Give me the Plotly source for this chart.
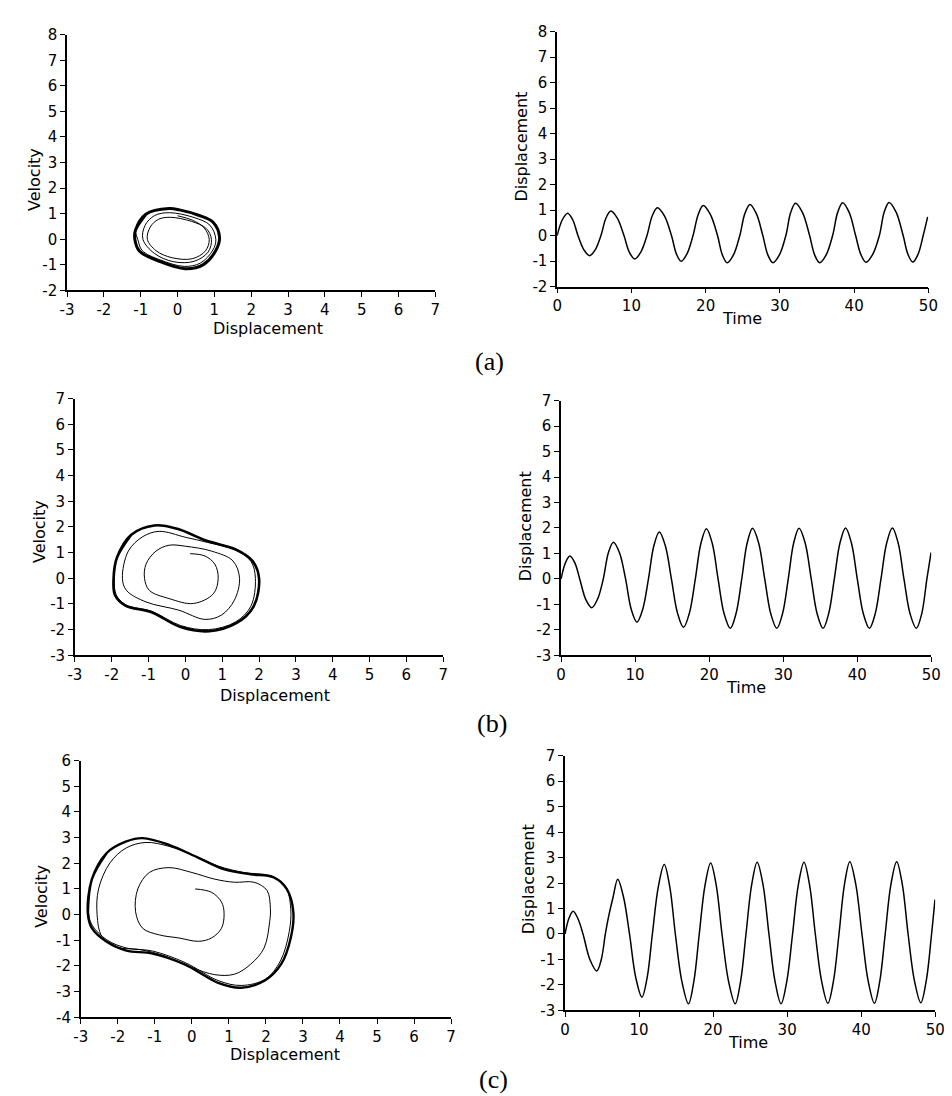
import plotly.graph_objects as go

# ---------------- DATA ----------------
# (a) phase portrait: transient spiral and limit cycle
PA_X = [0.00, 0.40, 0.72, 0.86, 0.76, 0.40, -0.15, -0.58, -0.82,
        -0.74, -0.52, -0.20, 0.38, 0.78, 0.92, 0.83, 0.45, -0.10, -0.62, -0.94,
        -0.88, -0.62, -0.22, 0.45, 0.88, 1.04, 0.96, 0.62, 0.18, -0.48, -0.96, -1.08,
        -1.14, -0.86]
PA_V = [0.92, 0.75, 0.45, 0.00, -0.45, -0.76, -0.72, -0.45, 0.00,
        0.48, 0.78, 0.86, 0.70, 0.42, 0.00, -0.50, -0.86, -0.88, -0.56, 0.00,
        0.55, 0.93, 1.04, 0.85, 0.55, 0.00, -0.42, -0.93, -1.06, -0.80, -0.44, 0.00,
        0.36, 0.98]
PA_LX = [-1.16, -1.14, -0.86, -0.23, 0.05, 0.57, 0.97, 1.14, 1.05, 0.70, 0.21, -0.50, -1.03, -1.16, -1.14, -0.86]
PA_LV = [0.00, 0.36, 0.98, 1.20, 1.15, 0.94, 0.66, 0.08, -0.41, -0.99, -1.15, -0.86, -0.47, 0.00, 0.36, 0.98]

# (a) time history
TA_T = [0, 0.7, 1.41, 2.1, 2.8, 3.6, 4.37, 5.13, 5.9, 6.57, 7.23, 8.1, 9.0, 9.72, 10.45, 11.27,
        12.1, 12.8, 13.5, 14.45, 15.4, 16.05, 16.7, 17.5, 18.3, 19.0, 19.67, 20.63, 21.6, 22.25,
        22.9, 23.75, 24.6, 25.28, 25.97, 26.83, 27.7, 28.38, 29.06, 29.93, 30.8, 31.45, 32.1,
        33.05, 34.0, 34.68, 35.36, 36.23, 37.1, 37.78, 38.45, 39.33, 40.2, 40.9, 41.6, 42.5,
        43.4, 44.05, 44.7, 45.65, 46.6, 47.25, 47.9, 48.6, 49.3, 49.9]
TA_Y = [0.0, 0.62, 0.88, 0.62, 0, -0.56, -0.79, -0.56, 0, 0.68, 0.96, 0.68, 0, -0.65, -0.92, -0.65,
        0, 0.77, 1.09, 0.77, 0, -0.71, -1.01, -0.71, 0, 0.83, 1.18, 0.83, 0, -0.76,
        -1.07, -0.76, 0, 0.86, 1.22, 0.86, 0, -0.76, -1.07, -0.76, 0, 0.90, 1.27,
        0.90, 0, -0.76, -1.07, -0.76, 0, 0.91, 1.29, 0.91, 0, -0.74, -1.05, -0.74,
        0, 0.92, 1.30, 0.92, 0, -0.74, -1.04, -0.74, 0, 0.73]

# (b) phase portrait
PB_X = [0.13, 0.53, 0.80, 0.89, 0.76, 0.22, -0.44, -0.98, -1.11,
        -1.07, -0.80, -0.44, 0.00, 0.71, 1.29, 1.47,
        1.33, 0.98, 0.53, -0.18, -1.07, -1.60, -1.71,
        -1.55, -1.15, -0.71, 0.00, 0.60, 1.35, 1.78, 1.90,
        1.78, 1.36, 0.63, -0.13, -0.92, -1.62, -1.88, -1.93,
        -1.86, -1.47]
PB_V = [0.96, 0.87, 0.55, 0.00, -0.60, -0.98, -0.79, -0.47, 0.00,
        0.55, 1.06, 1.29, 1.25, 1.06, 0.68, 0.00,
        -0.85, -1.43, -1.60, -1.24, -0.92, -0.47, 0.00,
        1.06, 1.63, 1.83, 1.60, 1.40, 1.10, 0.66, 0.00,
        -1.08, -1.70, -2.00, -1.84, -1.28, -1.03, -0.64, 0.00,
        0.80, 1.70]
PB_LX = [-1.95, -1.86, -1.47, -0.84, -0.22, 0.58, 1.38, 1.82, 2.00, 1.85, 1.38, 0.65, -0.13, -0.92, -1.63, -1.91, -1.95, -1.86, -1.47]
PB_LV = [0.00, 0.80, 1.70, 2.06, 1.93, 1.46, 1.12, 0.68, 0.00, -1.10, -1.75, -2.06, -1.90, -1.32, -1.06, -0.66, 0.00, 0.80, 1.70]

# (b) time history
TB_T = [0, 0.6, 1.19, 1.85, 2.52, 3.33, 4.15, 4.92, 5.7, 6.38, 7.07, 7.9, 8.71, 9.48, 10.25, 11.02,
        11.8, 12.53, 13.26, 14.08, 14.9, 15.72, 16.53, 17.33, 18.13, 18.88, 19.63, 20.42, 21.2,
        22.02, 22.85, 23.62, 24.4, 25.13, 25.86, 26.68, 27.5, 28.32, 29.13, 29.9, 30.68, 31.41,
        32.14, 32.96, 33.78, 34.58, 35.37, 36.13, 36.9, 37.66, 38.42, 39.21, 40.0, 40.82, 41.64,
        42.42, 43.2, 43.97, 44.74, 45.52, 46.3, 47.13, 47.97, 48.7, 49.4, 49.96]
TB_Y = [0.0, 0.64, 0.90, 0.64, 0, -0.80, -1.13, -0.80, 0, 1.02, 1.44, 1.02, 0, -1.20, -1.70, -1.20,
        0, 1.30, 1.84, 1.30, 0, -1.34, -1.90, -1.34, 0, 1.39, 1.97, 1.39, 0,
        -1.37, -1.94, -1.37, 0, 1.41, 1.99, 1.41, 0, -1.37, -1.94, -1.37, 0, 1.41,
        1.99, 1.41, 0, -1.37, -1.94, -1.37, 0, 1.41, 2.00, 1.41, 0, -1.37, -1.94,
        -1.37, 0, 1.41, 2.00, 1.41, 0, -1.37, -1.94, -1.37, 0, 1.03]

# (c) phase portrait
PC_X = [0.09, 0.53, 0.80, 0.87, 0.80, 0.53, 0.18, -0.35, -0.88, -1.33, -1.52,
        -1.46, -1.15, -0.62, 0.00, 0.62, 1.15, 1.68, 2.03, 2.12,
        2.10, 1.95, 1.59, 1.15, 0.62, 0.00, -0.71, -1.41, -2.03, -2.43, -2.56,
        -2.52, -2.21, -1.77, -1.24, -0.62, 0.09, 0.71, 1.41, 2.12, 2.52, 2.67,
        2.63, 2.39, 1.99, 1.33, 0.71, -0.18, -1.06, -1.77, -2.30, -2.70, -2.79,
        -2.70, -2.30]
PC_V = [1.00, 0.87, 0.49, 0.04, -0.53, -0.91, -1.04, -0.91, -0.79, -0.53, 0.11,
        1.00, 1.64, 1.83, 1.64, 1.38, 1.26, 1.26, 0.94, 0.23,
        -0.28, -1.30, -1.93, -2.32, -2.34, -2.06, -1.62, -1.36, -1.27, -0.85, 0.00,
        1.00, 2.02, 2.60, 2.81, 2.66, 2.28, 1.89, 1.64, 1.51, 1.13, 0.23,
        -0.66, -1.81, -2.51, -2.76, -2.57, -1.87, -1.42, -1.30, -0.98, -0.40, 0.11,
        1.38, 2.40]
PC_LX = [-2.81, -2.70, -2.30, -1.77, -1.33, -0.62, 0.18, 0.88, 1.59, 2.21, 2.56, 2.74, 2.67, 2.41, 1.97, 1.33,
         0.71, -0.18, -1.06, -1.77, -2.30, -2.70, -2.81, -2.70, -2.30]
PC_LV = [0.05, 1.38, 2.40, 2.85, 2.98, 2.72, 2.21, 1.76, 1.57, 1.45, 1.00, 0.10, -0.91, -1.93, -2.57, -2.85,
         -2.66, -1.95, -1.52, -1.40, -1.06, -0.53, 0.05, 1.38, 2.40]

# (c) time history
TC_T = [0, 0.55, 1.1, 1.75, 2.43, 3.36, 4.29, 4.9, 5.45, 5.9, 6.5, 7.12, 7.9, 8.71, 9.55, 10.39,
        11.1, 11.8, 12.6, 13.4, 14.15, 14.9, 15.78, 16.67, 17.4, 18.13, 18.9, 19.67, 20.43, 21.2,
        22.09, 22.98, 23.71, 24.44, 25.2, 25.95, 26.75, 27.54, 28.36, 29.18, 29.95, 30.73, 31.5,
        32.27, 33.03, 33.8, 34.65, 35.5, 36.25, 37.0, 37.73, 38.46, 39.28, 40.1, 40.94, 41.78,
        42.51, 43.24, 44.0, 44.79, 45.56, 46.33, 47.19, 48.05, 48.78, 49.5, 49.96]
TC_Y = [0.0, 0.63, 0.89, 0.60, 0, -1.00, -1.45, -1.00, 0, 0.70, 1.45, 2.15, 1.45, 0, -1.70, -2.48,
        -1.70, 0, 1.85, 2.73, 1.85, 0, -1.86, -2.74, -1.86, 0, 1.90, 2.79, 1.90, 0,
        -1.86, -2.74, -1.86, 0, 1.92, 2.82, 1.92, 0, -1.86, -2.74, -1.86, 0, 1.92,
        2.82, 1.92, 0, -1.85, -2.72, -1.85, 0, 1.93, 2.84, 1.93, 0, -1.85, -2.72,
        -1.85, 0, 1.93, 2.84, 1.93, 0, -1.84, -2.70, -1.84, 0, 1.35]

PHASE_XTICKS = [-3, -2, -1, 0, 1, 2, 3, 4, 5, 6, 7]
TIME_XTICKS = [0, 10, 20, 30, 40, 50]
YRANGE_A = [-2, 8]
YRANGE_B = [-3, 7]
YRANGE_CL = [-4, 6]
YRANGE_CR = [-3, 7]
PANEL_LABELS = ["(a)", "(b)", "(c)"]

# ---------------- LAYOUT ----------------
W, H = 952, 1096
def fx(px): return px / W
def fy(py): return 1 - py / H

FONT = "DejaVu Sans"
tickfont = dict(family=FONT, size=15, color="black")

fig = go.Figure()

def line(x, y, xa, ya, width, smooth=1.0):
    fig.add_trace(go.Scatter(x=x, y=y, mode="lines", xaxis=xa, yaxis=ya,
                             line=dict(color="black", width=width, shape="spline", smoothing=smooth),
                             showlegend=False, hoverinfo="skip"))

line(PA_X, PA_V, "x", "y", 1.0)
line(PA_LX, PA_LV, "x", "y", 3.0)
line(TA_T, TA_Y, "x2", "y2", 1.5)
line(PB_X, PB_V, "x3", "y3", 1.0)
line(PB_LX, PB_LV, "x3", "y3", 2.6)
line(TB_T, TB_Y, "x4", "y4", 1.5)
line(PC_X, PC_V, "x5", "y5", 1.0)
line(PC_LX, PC_LV, "x5", "y5", 2.4)
line(TC_T, TC_Y, "x6", "y6", 1.5)

def ax(domain, rng, ticks, anchor):
    return dict(domain=domain, range=rng, tickvals=ticks, ticktext=[str(t) for t in ticks],
                anchor=anchor, showline=True, linecolor="black", linewidth=1.5,
                ticks="outside", ticklen=5, tickwidth=1.2, tickcolor="black",
                showgrid=False, zeroline=False, tickfont=tickfont, fixedrange=True)

yt = lambda r: list(range(r[0], r[1] + 1))

# pixel boxes: (left, right, top, bottom)
boxes = [
    (53, 428, 18, 278),
    (552, 930, 15, 274),
    (61, 436, 388, 649),
    (556, 933, 390, 649),
    (67, 444, 756, 1017),
    (560, 937, 751, 1010),
]
xr = [[-3, 7], [0, 50], [-3, 7], [0, 50], [-3, 7], [0, 50]]
yr = [YRANGE_A, YRANGE_A, YRANGE_B, YRANGE_B, YRANGE_CL, YRANGE_CR]
xt = [PHASE_XTICKS, TIME_XTICKS] * 3

lay = {}
for i, (l, r, t, b) in enumerate(boxes):
    n = "" if i == 0 else str(i + 1)
    lay["xaxis" + n] = ax([fx(l), fx(r)], xr[i], xt[i], "y" + n)
    lay["yaxis" + n] = ax([fy(b), fy(t)], yr[i], yt(yr[i]), "x" + n)

anns = []
def txt(s, px, py, size=16, angle=0, family=FONT):
    anns.append(dict(text=s, x=fx(px), y=fy(py), xref="paper", yref="paper",
                     showarrow=False, textangle=angle, xanchor="center", yanchor="middle",
                     font=dict(family=family, size=size, color="black")))

# axis titles
txt("Velocity", 20, 165, angle=-90)
txt("Displacement", 258, 317)
txt("Displacement", 516, 132, angle=-90)
txt("Time", 740, 307)
txt("Velocity", 25, 523, angle=-90)
txt("Displacement", 265, 690)
txt("Displacement", 520, 518, angle=-90)
txt("Time", 744, 682)
txt("Velocity", 27, 894, angle=-90)
txt("Displacement", 275, 1055)
txt("Displacement", 523, 877, angle=-90)
txt("Time", 746, 1043)
# panel labels
for lab, (px, py) in zip(PANEL_LABELS, [(483, 350), (486, 718), (487, 1080)]):
    txt(lab, px, py, size=26, family="Liberation Serif")

fig.update_layout(width=W, height=H, margin=dict(l=0, r=0, t=0, b=0),
                  paper_bgcolor="white", plot_bgcolor="white",
                  annotations=anns, showlegend=False, **lay)

fig.write_html("out.html")
